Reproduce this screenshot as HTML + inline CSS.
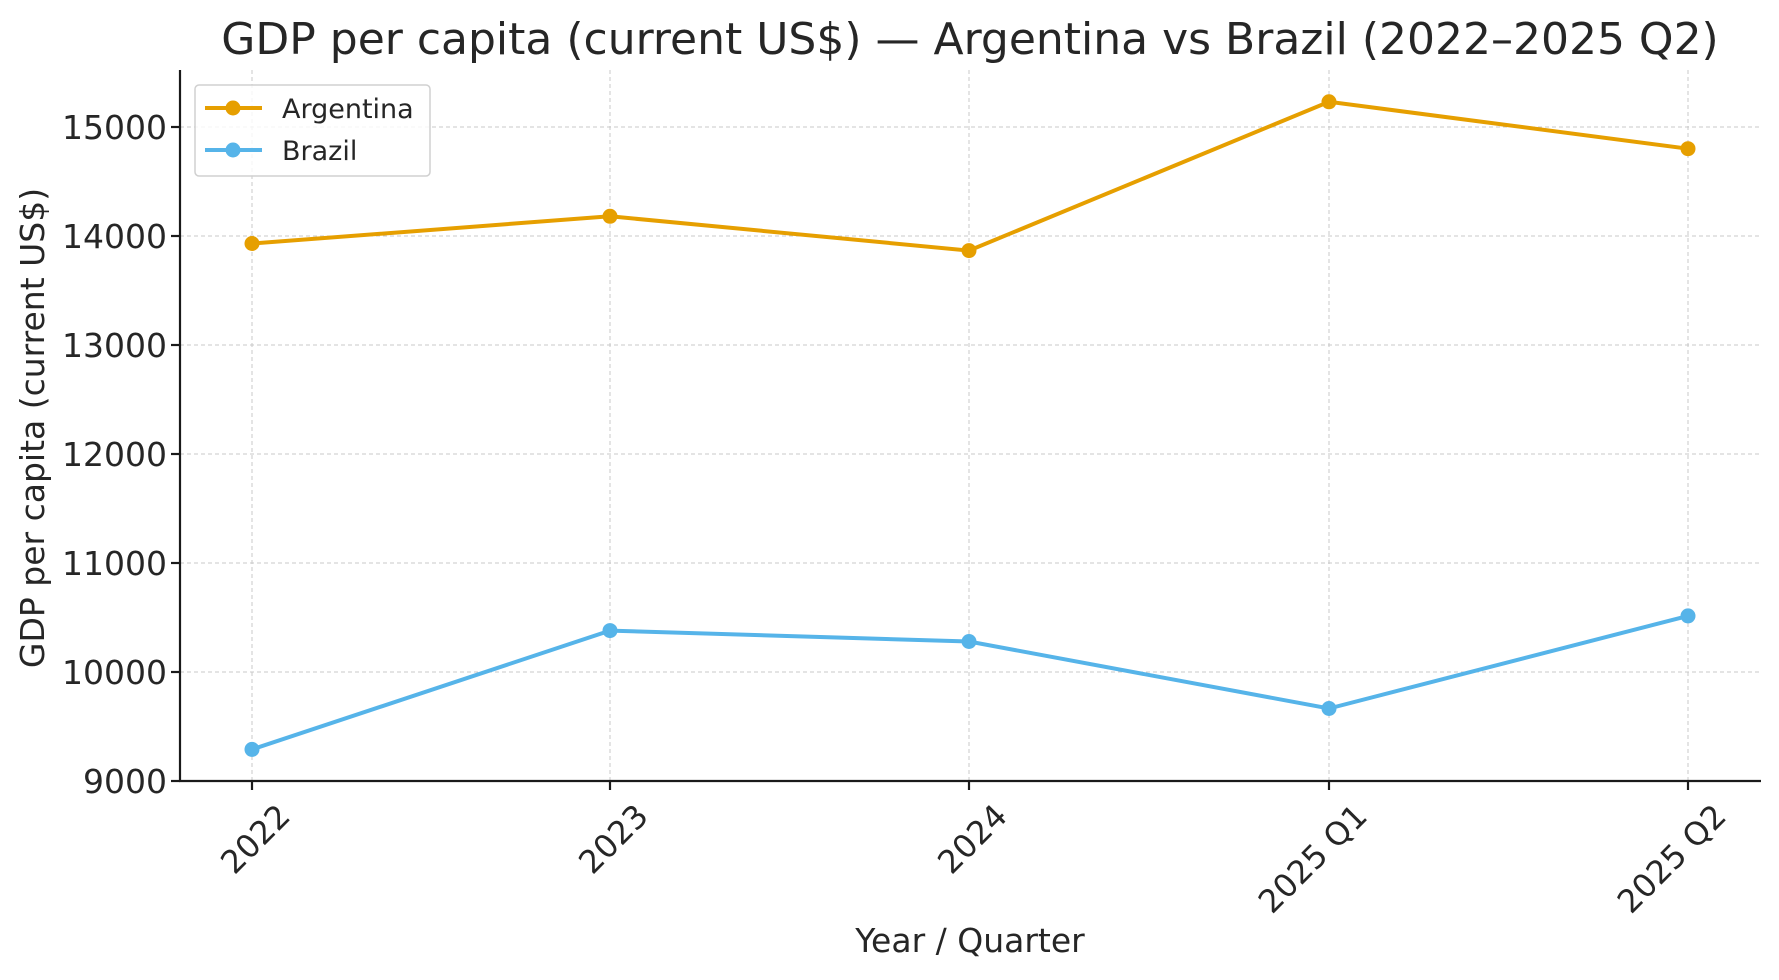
<!DOCTYPE html>
<html><head><meta charset="utf-8"><style>body{margin:0;background:#fff}svg{display:block}text{font-family:"DejaVu Sans","Liberation Sans",sans-serif;fill:#262626}</style></head><body>
<svg width="1779" height="980" viewBox="0 0 1779 980">
<g stroke="#c8c8c8" stroke-width="1" stroke-dasharray="4,3">
<line x1="252" y1="70" x2="252" y2="781"/><line x1="610" y1="70" x2="610" y2="781"/><line x1="969" y1="70" x2="969" y2="781"/><line x1="1329" y1="70" x2="1329" y2="781"/><line x1="1688" y1="70" x2="1688" y2="781"/>
<line x1="180" y1="672" x2="1761" y2="672"/><line x1="180" y1="563" x2="1761" y2="563"/><line x1="180" y1="454" x2="1761" y2="454"/><line x1="180" y1="345" x2="1761" y2="345"/><line x1="180" y1="236" x2="1761" y2="236"/><line x1="180" y1="127" x2="1761" y2="127"/>
</g>
<g stroke="#1a1a1a" stroke-width="2.2"><line x1="180" y1="70" x2="180" y2="781"/><line x1="179" y1="781" x2="1761" y2="781"/>
<line x1="171" y1="781" x2="180" y2="781"/><line x1="171" y1="672" x2="180" y2="672"/><line x1="171" y1="563" x2="180" y2="563"/><line x1="171" y1="454" x2="180" y2="454"/><line x1="171" y1="345" x2="180" y2="345"/><line x1="171" y1="236" x2="180" y2="236"/><line x1="171" y1="127" x2="180" y2="127"/>
<line x1="252" y1="781" x2="252" y2="790"/><line x1="610" y1="781" x2="610" y2="790"/><line x1="969" y1="781" x2="969" y2="790"/><line x1="1329" y1="781" x2="1329" y2="790"/><line x1="1688" y1="781" x2="1688" y2="790"/></g>
<g font-size="33" text-anchor="end">
<text x="167" y="793">9000</text><text x="167" y="684">10000</text><text x="167" y="575">11000</text><text x="167" y="466">12000</text><text x="167" y="357">13000</text><text x="167" y="248">14000</text><text x="167" y="139">15000</text></g>
<g font-size="32" text-anchor="end">
<text transform="translate(292,818) rotate(-45)">2022</text><text transform="translate(650,818) rotate(-45)">2023</text><text transform="translate(1009,818) rotate(-45)">2024</text><text transform="translate(1369,818) rotate(-45)">2025 Q1</text><text transform="translate(1728,818) rotate(-45)">2025 Q2</text></g>
<text x="970" y="952" font-size="33" text-anchor="middle">Year / Quarter</text>
<text transform="translate(44,428) rotate(-90)" font-size="33" text-anchor="middle">GDP per capita (current US$)</text>
<text x="970" y="54" font-size="44" text-anchor="middle">GDP per capita (current US$) — Argentina vs Brazil (2022–2025 Q2)</text>
<polyline fill="none" stroke="#e69f00" stroke-width="4" points="252,243.5 610,216.3 969,250.6 1329,101.8 1688,148.7"/>
<g fill="#e69f00"><circle cx="252" cy="243.5" r="7.5"/><circle cx="610" cy="216.3" r="7.5"/><circle cx="969" cy="250.6" r="7.5"/><circle cx="1329" cy="101.8" r="7.5"/><circle cx="1688" cy="148.7" r="7.5"/></g>
<polyline fill="none" stroke="#56b4e9" stroke-width="4" points="252,749.4 610,630.6 969,641.5 1329,708.5 1688,615.9"/>
<g fill="#56b4e9"><circle cx="252" cy="749.4" r="7.5"/><circle cx="610" cy="630.6" r="7.5"/><circle cx="969" cy="641.5" r="7.5"/><circle cx="1329" cy="708.5" r="7.5"/><circle cx="1688" cy="615.9" r="7.5"/></g>
<rect x="195" y="85" width="235" height="91" rx="4" fill="#fff" fill-opacity="0.8" stroke="#d0d0d0" stroke-width="1.5"/>
<line x1="205" y1="108" x2="262" y2="108" stroke="#e69f00" stroke-width="4"/><circle cx="233" cy="108" r="7.5" fill="#e69f00"/>
<line x1="205" y1="150" x2="262" y2="150" stroke="#56b4e9" stroke-width="4"/><circle cx="233" cy="150" r="7.5" fill="#56b4e9"/>
<text x="282" y="118" font-size="27">Argentina</text><text x="282" y="160" font-size="27">Brazil</text>
</svg></body></html>
